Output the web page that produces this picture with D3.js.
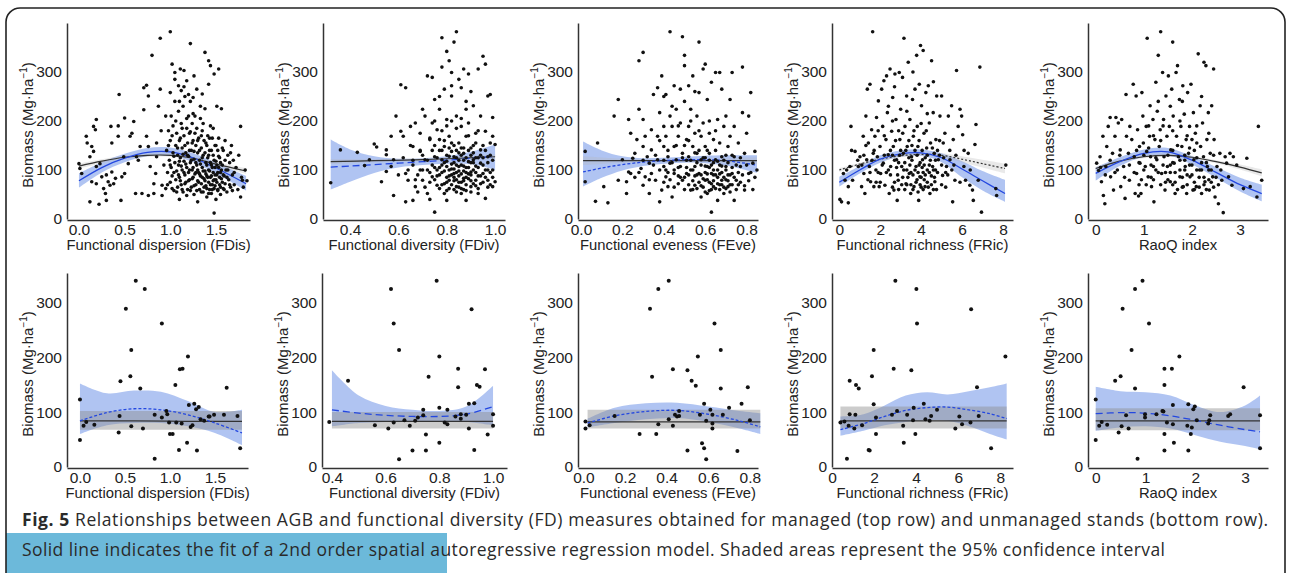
<!DOCTYPE html>
<html lang="en">
<head>
<meta charset="utf-8">
<title>Fig. 5 AGB and functional diversity</title>
<script src="https://d3js.org/d3.v7.min.js"></script>
<style>
body { margin: 0; background: #fff; }
svg { display: block; }
</style>
</head>
<body>
<svg id="fig" width="1290" height="573"></svg>
<script>
// managed stands (top row), [x, biomass]
let fdisTop = [[0.0,113],[0.01,103],[0.03,93],[0.08,169],[0.09,155],[0.12,127],[0.14,148],[0.16,138],[0.18,182],[0.19,203],[0.16,189],[0.14,76],[0.19,72],[0.12,35],[0.22,30],[0.19,107],[0.23,113],[0.25,86],[0.27,62],[0.29,52],[0.3,38],[0.3,90],[0.32,76],[0.34,69],[0.36,96],[0.38,72],[0.4,83],[0.36,155],[0.35,189],[0.43,190],[0.43,169],[0.44,254],[0.46,38],[0.47,86],[0.49,127],[0.5,206],[0.5,93],[0.54,113],[0.56,169],[0.58,175],[0.6,199],[0.62,52],[0.63,127],[0.65,120],[0.67,148],[0.69,52],[0.71,223],[0.71,268],[0.74,273],[0.76,251],[0.74,169],[0.76,148],[0.76,48],[0.78,107],[0.8,334],[0.82,72],[0.82,52],[0.84,93],[0.85,127],[0.85,155],[0.87,230],[0.89,369],[0.89,265],[0.91,69],[0.91,48],[0.93,110],
[0.95,62],[0.96,140],[0.97,95],[0.98,180],[0.99,120],[1.0,75],[1.0,160],[1.01,105],[1.01,210],[1.02,88],[1.03,135],[1.03,190],[1.04,58],[1.05,115],[1.05,240],[1.06,150],[1.06,80],[1.07,98],[1.07,175],[1.08,130],[1.08,65],[1.09,220],[1.09,110],[1.1,85],[1.1,160],[1.1,40],
[1.11,125],[1.12,195],[1.12,70],[1.13,100],[1.13,145],[1.14,230],[1.14,55],[1.15,118],[1.15,170],[1.16,90],[1.16,250],[1.17,135],[1.17,75],[1.18,185],[1.18,105],[1.19,60],[1.19,155],[1.2,210],[1.2,95],[1.2,128],
[1.21,80],[1.21,175],[1.22,115],[1.22,240],[1.23,65],[1.23,140],[1.24,100],[1.24,195],[1.25,85],[1.25,160],[1.26,50],[1.26,122],[1.27,210],[1.27,92],[1.28,70],[1.28,150],[1.29,185],[1.29,110],[1.3,78],[1.3,135],[1.3,35],
[1.31,95],[1.31,165],[1.32,60],[1.32,120],[1.33,205],[1.33,88],[1.34,145],[1.34,72],[1.35,180],[1.35,105],[1.36,55],[1.36,130],[1.37,160],[1.37,82],[1.38,98],[1.38,225],[1.39,68],[1.39,115],[1.4,150],[1.4,45],[1.4,88],
[1.41,170],[1.41,125],[1.42,75],[1.42,100],[1.43,60],[1.43,140],[1.44,190],[1.44,85],[1.45,110],[1.45,52],[1.46,165],[1.46,70],[1.47,95],[1.47,130],[1.48,62],[1.48,80],[1.49,150],[1.49,105],[1.5,40],[1.5,118],
[1.51,75],[1.51,90],[1.52,140],[1.52,60],[1.53,105],[1.53,165],[1.54,70],[1.54,125],[1.55,50],[1.55,95],[1.56,82],[1.56,225],[1.57,110],[1.58,62],[1.58,140],[1.59,88],[1.6,72],[1.6,160],
[1.61,100],[1.62,55],[1.63,130],[1.64,80],[1.65,115],[1.66,65],[1.67,150],[1.68,90],[1.69,120],[1.7,70],[1.72,105],[1.74,60],[1.75,130],[1.78,85],[1.8,65],[1.82,100],[1.84,78],[1.48,12],
[1.0,382],[1.02,316],[1.05,299],[1.11,306],[1.15,303],[1.22,358],[1.26,292],[1.38,340],[1.42,323],[1.44,313],[1.53,306],[1.48,296],[1.42,275],[1.29,265],[1.2,254],[1.09,272],[1.0,258],[1.51,230],[1.77,189],[1.79,79],[1.77,45],[1.05,285],[1.12,262],[1.18,282],[1.25,248],[1.15,270],
[0.97,70],[0.98,150],[1.0,110],[1.02,62],[1.02,170],[1.04,95],[1.04,128],[1.06,200],[1.07,55],[1.08,145],[1.09,90],[1.1,118],[1.11,78],[1.11,165],[1.12,108],[1.13,60],[1.13,185],[1.14,132],[1.15,95],[1.16,72],[1.16,150],[1.17,112],[1.18,48],[1.18,205],[1.19,130],[1.2,78],[1.21,100],[1.21,140],[1.22,58],[1.22,178],[1.23,120],[1.24,82],[1.24,155],[1.25,105],[1.26,68],[1.26,138],[1.27,175],[1.28,95],[1.28,115],[1.29,58],[1.3,160],[1.3,100],[1.31,75],[1.32,140],[1.32,92],[1.33,112],[1.34,55],[1.34,170],[1.35,85],[1.35,125],[1.36,98],[1.36,195],[1.37,65],[1.38,135],[1.38,78],[1.39,155],[1.39,92],[1.4,110],[1.4,62],[1.41,85],[1.42,130],[1.42,52],[1.43,98],[1.43,165],[1.44,70],[1.44,115],[1.45,140],[1.45,88],[1.46,60],[1.46,105],[1.47,78],[1.47,185],[1.48,120],[1.49,68],[1.49,90],[1.5,150],[1.5,80],[1.51,110],[1.52,58],[1.52,95],[1.53,128],[1.54,85],[1.55,65],[1.55,115],[1.56,100],[1.57,75],[1.57,145],[1.58,90],[1.59,60],[1.6,120],[1.62,85],[1.63,100],[1.65,70],[1.66,135],[1.68,58],[1.7,95],[1.25,215],[1.33,230],[1.1,240],[1.35,255],[0.9,180],[0.95,210]];

let fdivTop = [[0.32,74],[0.36,141],[0.43,136],[0.46,109],[0.48,121],[0.5,153],[0.51,147],[0.53,76],[0.55,131],[0.55,141],[0.55,97],[0.57,107],[0.57,169],[0.58,121],[0.58,48],[0.59,210],[0.61,179],[0.61,274],[0.62,169],[0.63,93],[0.63,268],[0.63,35],[0.64,79],[0.65,189],[0.66,38],[0.66,148],[0.66,110],[0.67,66],[0.67,196],[0.68,55],[0.69,138],[0.69,175],[0.69,100],[0.7,79],[0.7,224],[0.71,210],[0.71,121],[0.72,52],[0.72,292],[0.73,162],[0.73,40],[0.74,289],[0.74,86],[0.74,196],[0.75,244],[0.75,127],[0.75,14],[0.76,69],[0.76,182],[0.76,100],[0.77,224],[0.77,162],[0.78,310],[0.78,370],[0.78,121],[0.79,52],[0.79,265],[0.79,148],[0.8,203],[0.8,107],[0.8,38],[0.8,342],[0.81,323],[0.81,79],[0.81,169],[0.82,251],[0.82,138],[0.82,272],[0.82,299],[0.83,93],[0.83,127],[0.83,361],[0.84,210],[0.84,66],[0.84,382],[0.85,155],[0.85,285],[0.85,107],[0.86,189],[0.86,52],[0.86,268],[0.87,134],[0.87,306],[0.87,83],[0.88,224],[0.88,169],[0.88,38],[0.89,117],[0.89,296],[0.89,196],[0.9,96],[0.9,145],[0.9,66],[0.91,231],[0.91,121],[0.92,175],[0.92,79],[0.92,155],[0.93,306],[0.93,52],[0.94,114],[0.94,210],[0.94,141],[0.95,93],[0.95,332],[0.96,316],[0.96,179],[0.96,42],[0.97,127],[0.97,251],[0.97,79],[0.98,155],[0.98,254],[0.99,207],[0.99,66],[0.99,169],[1.0,152],[1.0,76],
[0.76,88],[0.77,105],[0.77,62],[0.78,95],[0.78,140],[0.79,72],[0.79,115],[0.8,85],[0.8,130],[0.8,58],[0.81,100],[0.81,145],[0.82,70],[0.82,112],[0.82,90],[0.83,60],[0.83,150],[0.83,102],[0.84,80],[0.84,125],[0.84,95],[0.85,65],[0.85,135],[0.85,88],[0.86,110],[0.86,75],[0.86,145],[0.87,98],[0.87,60],[0.87,120],[0.88,85],[0.88,105],[0.88,70],[0.89,140],[0.89,92],[0.9,78],[0.9,115],[0.9,55],[0.91,100],[0.91,135],[0.92,68],[0.92,108],[0.93,88],[0.93,125],[0.94,72],[0.95,110],[0.95,150],[0.96,85],[0.97,100],[0.98,70],[0.99,120],[0.72,100],[0.73,75],[0.7,130],[0.74,110],[0.68,90],[0.75,150],[0.71,65],[0.66,120],[0.64,100],
[0.72,120],[0.73,95],[0.74,140],[0.75,80],[0.75,105],[0.76,125],[0.77,90],[0.77,140],[0.78,70],[0.78,110],[0.79,98],[0.79,160],[0.8,75],[0.8,118],[0.81,88],[0.81,62],[0.81,128],[0.82,102],[0.82,155],[0.83,78],[0.83,115],[0.83,85],[0.84,110],[0.84,140],[0.84,55],[0.85,98],[0.85,120],[0.85,75],[0.86,92],[0.86,130],[0.86,62],[0.87,108],[0.87,145],[0.87,78],[0.88,95],[0.88,125],[0.88,58],[0.89,82],[0.89,105],[0.89,170],[0.9,130],[0.9,90],[0.91,72],[0.91,115],[0.91,150],[0.92,95],[0.92,125],[0.93,62],[0.93,105],[0.93,180],[0.94,88],[0.94,130],[0.95,75],[0.95,125],[0.96,100],[0.96,140],[0.97,65],[0.97,115],[0.98,95],[0.98,130],[0.99,85],[0.99,100],[0.8,190],[0.82,200],[0.84,185],[0.86,205],[0.78,180],[0.7,100],[0.69,140],[0.67,80],[0.65,150],[0.62,125],[0.6,90],[0.73,165],[0.75,200],[0.88,240],[0.9,260],[0.77,250]];

let feveTop = [[0.02,76],[0.02,138],[0.08,155],[0.07,36],[0.11,66],[0.13,33],[0.16,210],[0.18,244],[0.18,79],[0.2,121],[0.22,76],[0.22,52],[0.23,203],[0.23,96],[0.24,175],[0.24,93],[0.25,124],[0.26,134],[0.27,162],[0.28,323],[0.28,224],[0.29,103],[0.3,148],[0.3,69],[0.3,340],[0.3,203],[0.31,169],[0.31,86],[0.32,127],[0.33,114],[0.33,52],[0.34,182],[0.34,141],[0.34,93],[0.35,254],[0.36,79],[0.37,268],[0.37,169],[0.37,121],[0.38,35],[0.38,217],[0.39,292],[0.39,59],[0.4,107],[0.4,148],[0.4,189],[0.41,254],[0.41,86],[0.41,169],[0.42,127],[0.42,66],[0.43,210],[0.43,114],[0.43,382],[0.44,189],[0.44,45],[0.45,93],[0.45,272],[0.45,148],[0.46,121],[0.46,224],[0.47,72],[0.47,169],[0.48,107],[0.48,265],[0.48,196],[0.49,372],[0.49,134],[0.49,79],[0.5,334],[0.5,313],[0.51,162],[0.51,93],[0.52,272],[0.52,189],[0.52,127],[0.53,59],[0.53,224],[0.54,148],[0.54,292],[0.55,107],[0.55,175],[0.55,69],[0.56,210],[0.56,134],[0.57,258],[0.57,93],[0.57,361],[0.58,169],[0.58,45],[0.58,121],[0.59,306],[0.59,196],[0.6,79],[0.6,316],[0.6,148],[0.61,107],[0.61,244],[0.61,52],[0.62,175],[0.62,134],[0.63,93],[0.63,14],[0.63,279],[0.64,162],[0.64,66],[0.65,299],[0.65,121],[0.66,203],[0.66,38],[0.66,100],[0.67,299],[0.67,155],[0.68,79],[0.68,265],[0.68,127],[0.69,189],[0.69,52],[0.7,107],[0.7,210],[0.71,148],[0.71,66],[0.72,244],[0.72,169],[0.73,299],[0.73,93],[0.74,127],[0.74,38],[0.74,189],[0.75,79],[0.76,155],[0.77,107],[0.78,217],[0.78,310],[0.79,59],[0.79,134],[0.8,175],[0.81,93],[0.81,210],[0.82,258],[0.83,114],[0.84,138],[0.85,100],
[0.5,85],[0.51,120],[0.52,70],[0.53,100],[0.54,60],[0.55,135],[0.56,90],[0.57,75],[0.58,110],[0.59,65],[0.6,95],[0.6,125],[0.61,80],[0.62,58],[0.62,105],[0.63,72],[0.64,90],[0.64,115],[0.65,62],[0.66,85],[0.67,70],[0.67,110],[0.68,95],[0.69,65],[0.7,80],[0.7,130],[0.71,90],[0.72,70],[0.73,105],[0.75,60],[0.76,95],[0.77,75],[0.45,100],[0.47,88],[0.42,95],[0.4,75],[0.38,100],[0.36,130],
[0.4,120],[0.41,100],[0.42,140],[0.43,80],[0.44,115],[0.45,65],[0.46,150],[0.47,105],[0.48,85],[0.49,125],[0.5,60],[0.5,150],[0.51,105],[0.52,90],[0.52,160],[0.53,120],[0.54,78],[0.54,100],[0.55,88],[0.56,115],[0.56,62],[0.57,140],[0.58,90],[0.58,68],[0.59,125],[0.59,82],[0.6,108],[0.6,55],[0.61,140],[0.61,92],[0.62,120],[0.62,75],[0.63,110],[0.63,60],[0.64,100],[0.64,78],[0.65,140],[0.65,90],[0.66,72],[0.66,118],[0.67,60],[0.67,92],[0.68,108],[0.68,70],[0.69,120],[0.69,85],[0.7,62],[0.7,100],[0.71,78],[0.71,115],[0.72,90],[0.72,55],[0.73,70],[0.73,130],[0.74,85],[0.75,110],[0.76,70],[0.77,125],[0.78,90],[0.79,68],[0.8,110],[0.81,78],[0.82,95],[0.83,60],[0.84,85],[0.35,110],[0.33,80],[0.3,120],[0.28,95],[0.26,85],[0.38,160],[0.44,230],[0.5,240],[0.55,260],[0.47,190],[0.62,200],[0.57,180],[0.65,180],[0.53,200],[0.4,250]];

let fricTop = [[0.03,40],[0.11,35],[0.44,33],[0.2,93],[0.28,79],[0.36,100],[0.44,66],[0.52,107],[0.57,189],[0.65,79],[0.77,138],[0.93,107],[1.01,127],[1.09,66],[1.17,169],[1.2,93],[1.25,52],[1.3,210],[1.34,121],[1.37,265],[1.42,155],[1.47,107],[1.5,275],[1.53,76],[1.58,182],[1.63,382],[1.66,134],[1.69,66],[1.74,169],[1.79,100],[1.82,207],[1.86,127],[1.91,241],[1.95,66],[1.99,148],[2.02,93],[2.07,265],[2.12,189],[2.15,114],[2.18,282],[2.23,69],[2.28,162],[2.31,292],[2.35,217],[2.39,131],[2.44,52],[2.48,306],[2.51,107],[2.56,179],[2.61,248],[2.64,148],[2.67,59],[2.72,296],[2.77,203],[2.8,121],[2.83,38],[2.88,79],[2.93,299],[2.96,162],[3.0,224],[3.05,107],[3.09,289],[3.13,134],[3.16,369],[3.21,189],[3.26,72],[3.29,251],[3.32,148],[3.37,320],[3.42,93],[3.45,203],[3.49,52],[3.53,127],[3.58,244],[3.62,169],[3.65,66],[3.7,265],[3.75,107],[3.78,334],[3.81,189],[3.84,148],[3.88,38],[3.91,275],[3.94,86],[3.97,354],[4.02,231],[4.07,121],[4.1,344],[4.14,175],[4.19,66],[4.23,258],[4.27,145],[4.3,100],[4.35,272],[4.4,196],[4.43,52],[4.46,155],[4.51,323],[4.56,107],[4.59,217],[4.64,134],[4.67,76],[4.72,162],[4.76,251],[4.84,121],[4.92,210],[5.0,251],[5.05,89],[5.08,155],[5.16,175],[5.24,107],[5.33,210],[5.41,121],[5.49,231],[5.54,35],[5.57,162],[5.65,79],[5.73,303],[5.81,189],[5.9,224],[5.98,210],[6.03,172],[6.09,107],[6.17,79],[6.3,134],[6.38,69],[6.51,59],[6.55,38],[6.63,152],[6.68,193],[6.79,79],[6.87,310],[6.95,14],[7.65,62],[7.69,48],[8.14,110],
[2.5,90],[2.6,130],[2.7,75],[2.8,105],[2.9,60],[3.0,140],[3.1,85],[3.2,115],[3.3,70],[3.4,125],[3.5,95],[3.6,60],[3.7,140],[3.8,80],[3.9,110],[4.0,65],[4.1,95],[4.2,125],[4.3,75],[4.4,110],[4.5,88],[4.6,60],[4.7,100],[4.8,140],[3.85,55],[3.3,100],[2.9,115],[3.95,70],[4.15,80],[4.05,105],[3.55,150],[2.4,100],[2.2,130],[1.9,95],[1.6,120],[1.4,80],[1.1,110],[2.0,75],[5.2,95],[5.4,140],[5.0,70],[5.6,110],[4.9,160],
[2.1,110],[2.3,95],[2.5,140],[2.6,65],[2.7,120],[2.75,160],[2.85,90],[2.95,130],[3.05,70],[3.1,175],[3.15,100],[3.2,60],[3.25,140],[3.35,85],[3.4,160],[3.45,110],[3.5,70],[3.55,120],[3.6,90],[3.65,180],[3.7,100],[3.75,75],[3.8,130],[3.85,95],[3.9,160],[3.95,115],[4.0,85],[4.05,140],[4.1,60],[4.15,110],[4.2,90],[4.25,180],[4.3,130],[4.35,65],[4.4,95],[4.45,120],[4.5,70],[4.55,145],[4.6,100],[4.65,85],[4.7,120],[4.75,60],[4.8,95],[4.9,130],[5.0,110],[5.1,125],[5.2,65],[5.3,90],[5.5,100],[5.7,130],[5.9,75],[6.1,140],[6.4,100],[1.2,130],[1.5,95],[1.7,140],[1.8,75],[2.2,170],[2.4,230],[2.6,200],[2.9,180],[3.3,220],[3.6,300],[4.0,195],[4.3,215],[4.6,280],[2.7,270],[1.9,180],[1.3,150],[0.9,120],[0.6,140]];

let raoqTop = [[0.02,114],[0.06,99],[0.09,127],[0.12,76],[0.15,169],[0.16,48],[0.19,31],[0.21,107],[0.23,148],[0.26,189],[0.3,207],[0.31,86],[0.35,134],[0.37,59],[0.4,169],[0.42,207],[0.45,100],[0.47,196],[0.51,141],[0.52,66],[0.54,203],[0.58,107],[0.61,42],[0.63,254],[0.64,169],[0.68,134],[0.7,79],[0.71,189],[0.75,162],[0.78,275],[0.8,127],[0.82,52],[0.84,251],[0.85,93],[0.87,182],[0.89,47],[0.91,148],[0.92,114],[0.94,52],[0.96,258],[0.98,210],[0.99,155],[1.03,107],[1.05,189],[1.06,138],[1.07,369],[1.09,86],[1.12,169],[1.13,231],[1.14,127],[1.16,66],[1.19,203],[1.2,107],[1.21,35],[1.23,162],[1.25,279],[1.27,121],[1.28,220],[1.3,334],[1.32,148],[1.34,182],[1.35,382],[1.37,93],[1.39,299],[1.41,203],[1.42,127],[1.44,59],[1.46,251],[1.48,169],[1.49,107],[1.51,292],[1.53,189],[1.55,76],[1.56,141],[1.58,265],[1.6,361],[1.61,210],[1.63,114],[1.65,52],[1.67,299],[1.68,169],[1.7,313],[1.72,127],[1.74,244],[1.75,86],[1.77,189],[1.79,148],[1.81,272],[1.82,66],[1.84,214],[1.86,107],[1.88,162],[1.89,52],[1.91,258],[1.93,134],[1.95,189],[1.96,86],[1.98,275],[2.0,162],[2.02,59],[2.03,217],[2.04,121],[2.07,175],[2.09,66],[2.1,155],[2.13,337],[2.16,100],[2.17,231],[2.18,148],[2.2,52],[2.22,196],[2.24,127],[2.25,320],[2.27,76],[2.29,313],[2.31,162],[2.32,107],[2.34,217],[2.36,59],[2.38,134],[2.41,231],[2.43,86],[2.45,306],[2.46,162],[2.48,45],[2.52,107],[2.55,31],[2.58,134],[2.62,79],[2.65,13],[2.69,127],[2.72,114],[2.76,86],[2.79,134],[2.83,69],[2.86,127],[2.93,110],[3.07,62],[3.14,124],[3.21,66],[3.35,45],[3.38,189],[3.45,79],
[1.5,80],[1.55,110],[1.6,70],[1.65,95],[1.7,60],[1.75,120],[1.8,85],[1.85,100],[1.9,70],[1.95,110],[2.0,90],[2.05,75],[2.1,100],[2.15,65],[2.2,115],[2.25,85],[2.3,60],[2.35,100],[2.4,75],[1.45,95],[1.35,70],[1.25,100],[1.15,85],[1.0,100],[0.9,70],[2.45,130],[2.05,140],[1.85,130],[1.6,140],
[0.8,95],[0.85,140],[0.9,115],[0.95,80],[1.0,130],[1.05,70],[1.1,145],[1.15,110],[1.2,80],[1.25,125],[1.3,95],[1.35,160],[1.4,110],[1.45,75],[1.5,130],[1.55,95],[1.6,115],[1.65,75],[1.7,150],[1.75,100],[1.8,65],[1.85,120],[1.9,90],[1.95,145],[2.0,110],[2.05,60],[2.1,125],[2.15,85],[2.2,100],[2.25,70],[2.3,115],[2.35,80],[2.4,100],[2.45,65],[2.5,85],[2.55,70],[2.6,100],[0.3,120],[0.4,95],[0.5,130],[0.6,85],[0.7,110],[0.2,90],[0.1,105],[1.2,170],[1.4,190],[1.6,180],[1.75,200],[1.9,170],[2.1,190],[1.3,240],[1.55,230],[1.8,240],[2.2,250],[1.1,190],[2.35,175]];

// unmanaged stands (bottom row)
let fdisBottom = [[0.0,123],[0.0,49],[0.04,75],[0.07,82],[0.16,77],[0.43,63],[0.44,93],[0.45,156],[0.51,288],[0.56,165],[0.57,213],[0.57,74],[0.62,339],[0.67,143],[0.7,70],[0.72,324],[0.83,15],[0.83,95],[0.91,90],[0.91,261],[0.96,102],[0.97,96],[0.99,81],[1.0,60],[1.03,60],[1.06,149],[1.07,81],[1.1,31],[1.11,178],[1.14,179],[1.13,79],[1.19,44],[1.2,201],[1.21,113],[1.23,73],[1.25,76],[1.27,115],[1.29,105],[1.3,30],[1.32,109],[1.34,87],[1.38,84],[1.43,92],[1.44,92],[1.49,95],[1.6,95],[1.63,144],[1.75,93],[1.78,34]];
let fdivBottom = [[0.39,82],[0.46,157],[0.56,76],[0.61,70],[0.62,324],[0.63,261],[0.63,81],[0.65,213],[0.65,14],[0.67,85],[0.69,75],[0.7,30],[0.71,84],[0.72,90],[0.74,94],[0.74,104],[0.75,59],[0.75,30],[0.76,164],[0.79,339],[0.8,201],[0.8,108],[0.8,44],[0.82,81],[0.83,104],[0.83,78],[0.86,92],[0.87,179],[0.87,145],[0.88,88],[0.92,287],[0.93,116],[0.93,31],[0.88,96],[0.9,95],[0.91,70],[0.95,146],[0.94,149],[0.97,178],[1.0,96],[1.0,75],[0.98,59],[0.91,115]];
let feveBottom = [[0.01,83],[0.01,70],[0.03,76],[0.15,93],[0.27,60],[0.32,288],[0.33,164],[0.35,60],[0.36,78],[0.36,324],[0.41,339],[0.41,87],[0.43,178],[0.43,75],[0.44,95],[0.45,92],[0.46,93],[0.46,102],[0.5,176],[0.5,30],[0.52,157],[0.54,148],[0.55,201],[0.56,95],[0.57,43],[0.58,115],[0.58,34],[0.59,84],[0.59,14],[0.61,104],[0.62,95],[0.62,79],[0.62,70],[0.63,261],[0.66,213],[0.66,143],[0.67,95],[0.7,108],[0.74,29],[0.76,115],[0.79,145],[0.8,85]];
let fricBottom = [[0.4,81],[0.59,83],[0.71,15],[0.79,75],[0.84,96],[0.84,157],[1.06,70],[1.11,95],[1.14,149],[1.27,143],[1.43,76],[1.74,31],[1.79,30],[1.9,165],[1.98,213],[1.98,114],[2.09,90],[2.09,60],[2.85,95],[2.93,179],[3.01,339],[3.09,102],[3.38,75],[3.41,44],[3.57,95],[3.77,176],[3.85,85],[3.88,108],[3.96,60],[4.01,324],[4.04,261],[4.36,115],[4.44,87],[4.64,84],[4.71,93],[4.99,104],[5.86,70],[6.05,92],[6.18,78],[6.58,81],[6.61,287],[6.89,145],[6.97,93],[7.56,34],[8.24,201]];
let raoqBottom = [[0.0,123],[0.0,49],[0.07,75],[0.12,82],[0.23,77],[0.39,157],[0.46,63],[0.5,165],[0.52,74],[0.54,288],[0.61,94],[0.66,70],[0.72,213],[0.79,324],[0.79,143],[0.84,15],[0.94,339],[0.99,96],[0.99,90],[1.07,261],[1.22,96],[1.34,102],[1.36,101],[1.38,149],[1.38,179],[1.38,60],[1.38,30],[1.43,81],[1.53,179],[1.55,113],[1.55,78],[1.57,44],[1.68,201],[1.84,75],[1.86,114],[1.86,30],[1.91,60],[1.93,72],[1.96,105],[1.99,110],[2.03,85],[2.26,79],[2.28,85],[2.3,94],[2.66,93],[2.7,96],[2.97,145],[3.3,94],[3.3,34]];

// fitted curves, [x, fit, lower, upper]
let fdisTopBlue = [[0.0,78,64,93],[0.25,105,95,116],[0.5,124,116,133],[0.75,136,128,145],[1.0,137,129,146],[1.25,125,116,134],[1.5,104,93,115],[1.83,72,58,88]];
let fdisTopBlack = [[0.0,108,103,113],[0.25,118,114,122],[0.5,126,123,129],[0.75,130,127,133],[1.0,130,127,133],[1.25,124,121,127],[1.5,112,108,116],[1.83,98,92,104]];
let fdivTopBlue = [[0.32,106,60,162],[0.4,108,76,142],[0.5,111,94,128],[0.6,114,105,123],[0.7,117,110,124],[0.8,120,113,128],[0.9,124,112,137],[1.0,128,100,152]];
let fdivTopBlack = [[0.32,117,112,122],[0.5,119,116,122],[0.7,121,118,124],[0.85,124,121,127],[1.0,127,122,132]];
let feveTopBlue = [[0.01,96,66,158],[0.1,104,84,140],[0.2,111,99,128],[0.3,116,108,124],[0.4,119,113,125],[0.5,121,115,127],[0.6,121,114,129],[0.7,119,109,130],[0.85,110,94,130]];
let feveTopBlack = [[0.01,119,110,128],[0.2,119,115,123],[0.4,119,117,121],[0.6,119,116,122],[0.85,119,112,126]];
let fricTopBlue = [[0,75,66,86],[1,100,93,108],[2,122,115,130],[3,133,127,140],[4,135,129,142],[5,125,116,134],[6,102,85,118],[7,78,58,98],[8.1,52,35,80]];
let fricTopBlack = [[0,100,96,104],[1,112,109,115],[2,122,119,125],[3,129,126,132],[4,132,129,135],[5,130,126,134],[6,122,116,128],[7,113,105,121],[8.1,103,93,113]];
let raoqTopBlue = [[0,93,78,105],[0.5,117,108,126],[1.0,134,127,142],[1.5,137,130,145],[2.0,120,111,128],[2.5,95,84,106],[3.0,70,56,84],[3.45,52,36,70]];
let raoqTopBlack = [[0,103,99,107],[0.5,118,115,121],[1.0,127,124,130],[1.5,130,127,133],[2.0,126,123,129],[2.5,117,114,120],[3.0,106,101,111],[3.45,94,87,101]];

let fdisBottomBlue = [[0,84,60,152],[0.3,99,76,134],[0.6,106,80,139],[0.9,104,80,137],[1.2,95,74,120],[1.5,80,62,100],[1.8,62,40,104]];
let fdisBottomBlack = [[0,84,68,102],[0.6,84,68,102],[1.2,83,68,102],[1.8,83,68,102]];
let fdivBottomBlue = [[0.4,104,74,176],[0.5,98,80,130],[0.6,94,82,111],[0.7,92,83,104],[0.8,92,82,102],[0.9,96,82,110],[1.0,110,76,148]];
let fdivBottomBlack = [[0.4,83,70,100],[0.7,83,70,100],[1.0,83,70,100]];
let feveBottomBlue = [[0.02,80,72,88],[0.15,93,80,108],[0.3,101,87,116],[0.45,103,89,117],[0.6,96,82,110],[0.75,84,70,102],[0.85,73,60,98]];
let feveBottomBlack = [[0.02,82,70,104],[0.45,82,70,104],[0.85,82,70,104]];
let fricBottomBlue = [[0.4,68,57,92],[1.5,79,66,96],[2.5,92,76,112],[3.5,103,82,130],[4.5,108,85,136],[5.5,109,84,132],[6.5,104,74,138],[7.5,97,60,145],[8.3,88,50,152]];
let fricBottomBlack = [[0.4,84,70,110],[4.3,84,70,110],[8.3,84,70,110]];
let raoqBottomBlue = [[0,97,66,146],[0.5,99,72,138],[1.0,98,74,136],[1.5,93,70,130],[2.0,85,58,112],[2.5,76,46,100],[3.0,68,38,112],[3.3,64,32,130]];
let raoqBottomBlack = [[0,84,67,107],[1.6,84,67,107],[3.3,84,67,107]];

// tick labels
let fdisTicks = [0, 0.5, 1.0, 1.5];
let fdivTicks = [0.4, 0.6, 0.8, 1.0];
let feveTicks = [0.0, 0.2, 0.4, 0.6, 0.8];
let fricTicks = [0, 2, 4, 6, 8];
let raoqTicks = [0, 1, 2, 3];
let biomassTicks = [0, 100, 200, 300];

let svg = d3.select('#fig');
let font = "'Liberation Sans', Arial, sans-serif";

let rows = [
    {top: 23, bottom: 219, yMax: 400, gray: '#b5b5b5', grayOp: 0.3, r: 1.8},
    {top: 273, bottom: 467, yMax: 353, gray: '#8e8e8e', grayOp: 0.45, r: 2}
];

let panels = [
    {row: 0, pts: fdisTop, blue: fdisTopBlue, black: fdisTopBlack, lab: 'Functional dispersion (FDis)', ticks: fdisTicks, fmt: '.1f', range: [67, 250], domain: [-0.131, 1.873], blueDash: null, blackDash: null},
    {row: 0, pts: fdivTop, blue: fdivTopBlue, black: fdivTopBlack, lab: 'Functional diversity (FDiv)', ticks: fdivTicks, fmt: '.1f', range: [323, 505], domain: [0.288, 1.041], blueDash: '7,4', blackDash: null},
    {row: 0, pts: feveTop, blue: feveTopBlue, black: feveTopBlack, lab: 'Functional eveness (FEve)', ticks: feveTicks, fmt: '.1f', range: [578, 758], domain: [-0.0145, 0.855], blueDash: '3,2', blackDash: null},
    {row: 0, pts: fricTop, blue: fricTopBlue, black: fricTopBlack, lab: 'Functional richness (FRic)', ticks: fricTicks, fmt: 'd', range: [832, 1013], domain: [-0.357, 8.49], blueDash: null, blackDash: '2,2'},
    {row: 0, pts: raoqTop, blue: raoqTopBlue, black: raoqTopBlack, lab: 'RaoQ index', ticks: raoqTicks, fmt: 'd', range: [1088, 1268], domain: [-0.16, 3.58], blueDash: null, blackDash: null},
    {row: 1, pts: fdisBottom, blue: fdisBottomBlue, black: fdisBottomBlack, lab: 'Functional dispersion (FDis)', ticks: fdisTicks, fmt: '.1f', range: [67, 248], domain: [-0.144, 1.867], blueDash: '3,2', blackDash: null},
    {row: 1, pts: fdivBottom, blue: fdivBottomBlue, black: fdivBottomBlack, lab: 'Functional diversity (FDiv)', ticks: fdivTicks, fmt: '.1f', range: [322, 507], domain: [0.363, 1.052], blueDash: '7,4', blackDash: null},
    {row: 1, pts: feveBottom, blue: feveBottomBlue, black: feveBottomBlack, lab: 'Functional eveness (FEve)', ticks: feveTicks, fmt: '.1f', range: [578, 758], domain: [-0.026, 0.839], blueDash: '3,2', blackDash: null},
    {row: 1, pts: fricBottom, blue: fricBottomBlue, black: fricBottomBlack, lab: 'Functional richness (FRic)', ticks: fricTicks, fmt: 'd', range: [832, 1013], domain: [0, 8.6], blueDash: '3,2', blackDash: null},
    {row: 1, pts: raoqBottom, blue: raoqBottomBlue, black: raoqBottomBlack, lab: 'RaoQ index', ticks: raoqTicks, fmt: 'd', range: [1088, 1268], domain: [-0.155, 3.46], blueDash: '7,4', blackDash: null}
];

function draw_panel(p){
    let r = rows[p.row];
    let x = d3.scaleLinear().domain(p.domain).range(p.range);
    let y = d3.scaleLinear().domain([0, r.yMax]).range([r.bottom, r.top]);
    let g = svg.append('g');

    let band = d3.area()
        .x(d => x(d[0]))
        .y0(d => y(d[2]))
        .y1(d => y(d[3]))
        .curve(d3.curveCatmullRom);
    let fit = d3.line()
        .x(d => x(d[0]))
        .y(d => y(d[1]))
        .curve(d3.curveCatmullRom);

    g.append('path').datum(p.blue).attr('d', band)
        .attr('fill', '#6f93e8').attr('fill-opacity', 0.55);
    g.append('path').datum(p.black).attr('d', band)
        .attr('fill', r.gray).attr('fill-opacity', r.grayOp);
    g.append('path').datum(p.black).attr('d', fit)
        .attr('fill', 'none').attr('stroke', '#333').attr('stroke-width', 1.2)
        .attr('stroke-dasharray', p.blackDash);
    g.append('path').datum(p.blue).attr('d', fit)
        .attr('fill', 'none').attr('stroke', '#2448e0').attr('stroke-width', 1.3)
        .attr('stroke-dasharray', p.blueDash);

    g.selectAll('circle').data(p.pts).join('circle')
        .attr('cx', d => x(d[0]))
        .attr('cy', d => y(d[1]))
        .attr('r', r.r)
        .attr('fill', '#111');

    let xAxis = g.append('g')
        .attr('transform', `translate(0, ${r.bottom + 1})`)
        .call(d3.axisBottom(x).tickValues(p.ticks).tickFormat(d3.format(p.fmt))
            .tickSize(0).tickPadding(4));
    let yAxis = g.append('g')
        .attr('transform', `translate(${p.range[0]}, 0)`)
        .call(d3.axisLeft(y).tickValues(biomassTicks).tickSize(0).tickPadding(5));

    [xAxis, yAxis].forEach(a => {
        a.select('.domain').attr('stroke', '#333').attr('stroke-width', 1.5);
        a.selectAll('text').attr('font-family', font).attr('font-size', 15.5).attr('fill', '#222');
    });

    g.append('text')
        .attr('x', (p.range[0] + p.range[1]) / 2)
        .attr('y', r.bottom + 31)
        .attr('text-anchor', 'middle')
        .attr('font-family', font).attr('font-size', 14.8).attr('fill', '#222')
        .text(p.lab);

    let yl = g.append('text')
        .attr('transform', `translate(${p.range[0] - 34}, ${(r.top + r.bottom) / 2 + 4}) rotate(-90)`)
        .attr('text-anchor', 'middle')
        .attr('font-family', font).attr('font-size', 15).attr('fill', '#222');
    yl.append('tspan').text('Biomass (Mg\u00b7ha');
    yl.append('tspan').attr('font-size', 10).attr('dy', -6).text('\u22121');
    yl.append('tspan').attr('dy', 6).text(')');
}

panels.forEach(draw_panel);

// caption
svg.append('rect')
    .attr('x', 6).attr('y', 533).attr('width', 441).attr('height', 45)
    .attr('fill', '#6cb9da');

let cap = svg.append('g')
    .attr('font-family', "'Open Sans', 'Noto Sans', sans-serif")
    .attr('font-size', 17.5).attr('fill', '#2a2a2a');
let line1 = cap.append('text').attr('x', 22).attr('y', 526)
    .attr('textLength', 1246).attr('lengthAdjust', 'spacing');
line1.append('tspan').attr('font-weight', 'bold').text('Fig. 5');
line1.append('tspan').text(' Relationships between AGB and functional diversity (FD) measures obtained for managed (top row) and unmanaged stands (bottom row).');
cap.append('text').attr('x', 22).attr('y', 556)
    .attr('textLength', 1143).attr('lengthAdjust', 'spacing')
    .text('Solid line indicates the fit of a 2nd order spatial autoregressive regression model. Shaded areas represent the 95% confidence interval');

svg.append('rect')
    .attr('x', 6).attr('y', 8).attr('width', 1279).attr('height', 590)
    .attr('rx', 14)
    .attr('fill', 'none').attr('stroke', '#222').attr('stroke-width', 1.6);
</script>
</body>
</html>
